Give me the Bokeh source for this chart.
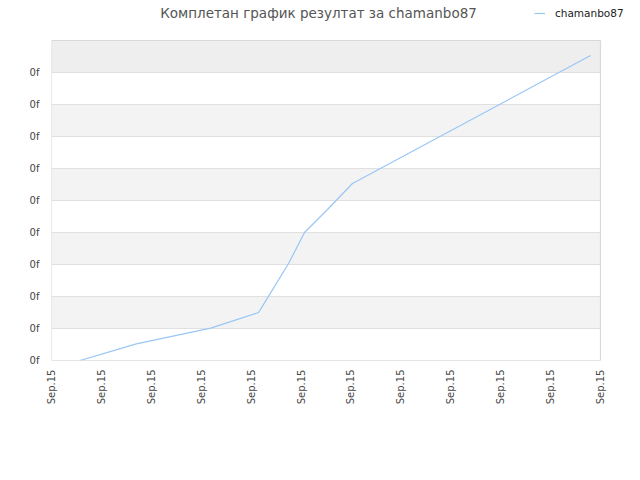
import math
from bokeh.plotting import figure
from bokeh.models import (BoxAnnotation, Legend, LegendItem, FixedTicker,
                          Range1d, Label)
from bokeh.embed import file_html
from bokeh.resources import INLINE

# ---- data ----
title_text = "Комплетан график резултат за chamanbo87"
series_name = "chamanbo87"
x_vals = [0.57, 1.70, 3.19, 4.15, 4.27, 4.75, 5.07, 5.53, 6.03, 10.80]
y_vals = [0.00, 0.52, 1.01, 1.50, 1.81, 3.03, 4.00, 4.72, 5.53, 9.53]
x_ticks = list(range(12))
x_tick_labels = ["Sep.15"] * 12
y_ticks = list(range(10))
y_tick_labels = ["0f"] * 10

FONT = "DejaVu Sans"
X_END, Y_END = 11, 10          # extent of the plotting box

# frame covers the plot box plus the header / legend strip
p = figure(frame_width=579, frame_height=360,
           min_border_left=51, min_border_right=2,
           min_border_top=0, min_border_bottom=100,
           output_backend="svg", toolbar_location=None,
           x_range=Range1d(0, X_END * 579 / 549),
           y_range=Range1d(0, Y_END * 360 / 320))

p.background_fill_color = "white"
p.border_fill_color = "white"
p.outline_line_color = None

# plot box background and alternating bands
for lo in [1, 3, 5, 7]:
    p.add_layout(BoxAnnotation(left=0, right=X_END, bottom=lo, top=lo + 1,
                               fill_color="#f3f3f3", fill_alpha=1,
                               line_color=None, level="underlay"))
p.add_layout(BoxAnnotation(left=0, right=X_END, bottom=9, top=Y_END,
                           fill_color="#eeeeee", fill_alpha=1,
                           line_color=None, level="underlay"))

# horizontal grid lines limited to the plot box
p.segment(x0=[0] * len(y_ticks), x1=[X_END] * len(y_ticks),
          y0=y_ticks, y1=y_ticks, line_color="#e0e0e0", line_width=1)

r = p.line(x_vals, y_vals, line_color="#99c6f5", line_width=1.2)

# plot box border (left / right / bottom / top)
p.segment(x0=[0, X_END, 0, 0], x1=[0, X_END, X_END, X_END],
          y0=[0, 0, 0, Y_END], y1=[Y_END, Y_END, 0, Y_END],
          line_color="#d9d9d9", line_width=1.2)

# title
p.title.text = ""
p.add_layout(Label(x=267, y=348, x_units="screen", y_units="screen",
                   text=title_text, text_align="center",
                   text_baseline="middle", text_font=FONT,
                   text_font_size="13.5px", text_color="#555555"))

# axes
p.xaxis.ticker = FixedTicker(ticks=x_ticks)
p.xaxis.major_label_overrides = {t: l for t, l in zip(x_ticks, x_tick_labels)}
p.xaxis.major_label_orientation = math.pi / 2
p.yaxis.ticker = FixedTicker(ticks=y_ticks)
p.yaxis.major_label_overrides = {t: l for t, l in zip(y_ticks, y_tick_labels)}
for ax in (p.xaxis[0], p.yaxis[0]):
    ax.axis_line_color = None
    ax.major_tick_line_color = None
    ax.minor_tick_line_color = None
    ax.major_tick_out = 0
    ax.major_tick_in = 0
    ax.major_label_text_font = FONT
    ax.major_label_text_font_size = "10px"
    ax.major_label_text_color = "#444444"
p.xaxis.major_label_standoff = 9
p.yaxis.major_label_standoff = 12

p.xgrid.grid_line_color = None
p.ygrid.grid_line_color = None

legend = Legend(items=[LegendItem(label=series_name, renderers=[r])],
                location=(483, 341), orientation="horizontal",
                padding=0, margin=0, border_line_color=None,
                background_fill_alpha=0, glyph_width=11, glyph_height=12,
                label_height=12, label_standoff=10,
                label_text_font=FONT, label_text_font_size="10.5px",
                label_text_color="#222222")
p.add_layout(legend)

open("out.html", "w").write(file_html(p, INLINE))
